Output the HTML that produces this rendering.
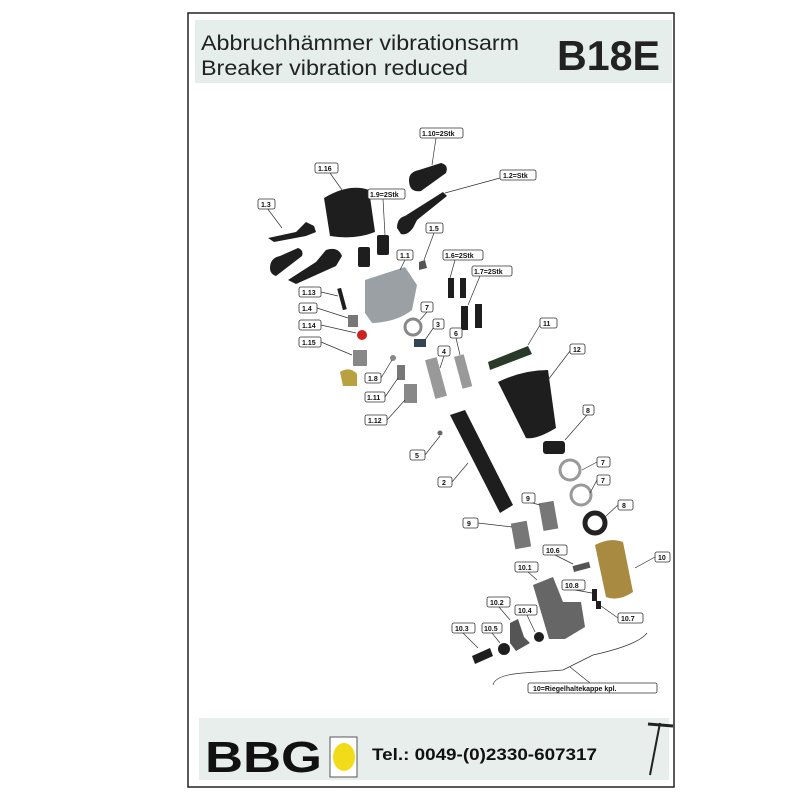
<!DOCTYPE html>
<html><head><style>
body{margin:0;background:#fff;width:800px;height:800px;overflow:hidden;font-family:"Liberation Sans",sans-serif}
</style></head><body>
<svg width="800" height="800" viewBox="0 0 800 800" xmlns="http://www.w3.org/2000/svg" font-family="Liberation Sans, sans-serif">
<rect x="0" y="0" width="800" height="800" fill="#fff"/>
<rect x="188" y="13" width="486" height="774" fill="#fff" stroke="#222" stroke-width="1.5"/>
<rect x="195" y="20" width="477" height="63" fill="#e5eeea"/>
<text x="201" y="50" font-size="21" fill="#222" textLength="318" lengthAdjust="spacingAndGlyphs">Abbruchhämmer vibrationsarm</text>
<text x="201" y="75" font-size="21" fill="#222" textLength="267" lengthAdjust="spacingAndGlyphs">Breaker vibration reduced</text>
<text x="557" y="70" font-size="42" font-weight="bold" fill="#222" textLength="103" lengthAdjust="spacingAndGlyphs">B18E</text>
<rect x="199" y="718" width="470" height="62" fill="#e8eeeb"/>
<text x="205" y="772" font-size="44" font-weight="bold" fill="#111" textLength="117" lengthAdjust="spacingAndGlyphs">BBG</text>
<rect x="330" y="737" width="27" height="40" fill="#fff" stroke="#555"/>
<ellipse cx="344" cy="757" rx="11" ry="14" fill="#f2dc1a"/>
<text x="372" y="760" font-size="17" font-weight="bold" fill="#111" textLength="225" lengthAdjust="spacingAndGlyphs">Tel.: 0049-(0)2330-607317</text>
<line x1="660" y1="723" x2="650" y2="775" stroke="#222" stroke-width="2"/>
<line x1="648" y1="724" x2="673" y2="726" stroke="#222" stroke-width="3"/>
<g fill="#1e1e1e">
<path d="M409 180 q0 -8 10 -10 l22 -7 q8 2 5 10 l-25 18 q-12 2 -12 -11 z"/>
<path d="M397 228 q0 -10 8 -12 l38 -24 l4 4 l-30 24 l-4 8 q-6 8 -12 6 z"/>
<path d="M324 198 q25 -15 45 -8 l6 42 q-20 8 -45 4 z"/>
<path d="M268 238 l28 -6 l6 -6 l4 -4 l8 4 l2 6 l-10 4 l-32 6 z"/>
<path d="M270 268 q0 -10 10 -12 l18 -8 q6 2 4 8 l-26 20 q-6 -2 -6 -8 z"/>
<path d="M288 280 l28 -18 l10 -12 q12 -4 16 6 l-6 10 l-40 18 z"/>
<rect x="358" y="247" width="12" height="20" rx="2"/>
<rect x="377" y="235" width="12" height="20" rx="2"/>
<path d="M419 262 l6 -2 l2 8 l-8 2 z" fill="#555"/>
<path d="M365 280 l40 -13 l12 18 l-5 25 q-15 12 -40 13 l-7 -10 z" fill="#9aa0a4"/>
<rect x="448" y="278" width="6" height="20"/>
<rect x="460" y="278" width="6" height="20"/>
<rect x="461" y="306" width="7" height="24"/>
<rect x="475" y="304" width="7" height="24"/>
<circle cx="413" cy="327" r="8" fill="none" stroke="#888" stroke-width="3"/>
<rect x="414" y="339" width="12" height="8" fill="#345"/>
<rect x="340" y="288" width="4" height="22" transform="rotate(-15 342 299)"/>
<rect x="348" y="315" width="10" height="12" fill="#777"/>
<circle cx="362" cy="335" r="5" fill="#c22"/>
<rect x="353" y="350" width="14" height="16" fill="#888"/>
<path d="M340 372 q10 -6 17 2 l0 12 l-14 0 z" fill="#b9a040"/>
<circle cx="393" cy="358" r="3" fill="#888"/>
<rect x="397" y="365" width="8" height="15" fill="#777"/>
<rect x="404" y="384" width="13" height="19" fill="#888"/>
<rect x="430" y="358" width="12" height="40" fill="#999" transform="rotate(-15 436 378)"/>
<rect x="458" y="355" width="10" height="33" fill="#999" transform="rotate(-15 463 371)"/>
<path d="M488 362 l40 -16 l4 8 l-42 16 z" fill="#2a3a2a"/>
<path d="M498 382 q25 -12 50 -12 l8 58 q-20 12 -30 10 z"/>
<rect x="543" y="441" width="22" height="13" rx="3"/>
<circle cx="570" cy="470" r="10" fill="none" stroke="#999" stroke-width="3"/>
<circle cx="581" cy="495" r="10" fill="none" stroke="#999" stroke-width="3"/>
<circle cx="595" cy="523" r="10" fill="none" stroke="#222" stroke-width="5"/>
<path d="M450 415 l15 -5 l48 95 l-13 8 z"/>
<circle cx="440" cy="433" r="2.5" fill="#666"/>
<rect x="541" y="502" width="15" height="28" fill="#777" transform="rotate(-10 548 516)"/>
<rect x="513" y="522" width="16" height="26" fill="#777" transform="rotate(-10 521 535)"/>
<path d="M595 545 q15 -8 28 -3 l10 50 q-15 10 -27 5 z" fill="#a88a40"/>
<rect x="573" y="564" width="17" height="6" fill="#555" transform="rotate(-15 581 567)"/>
<path d="M533 585 l20 -8 l10 25 l18 0 l4 25 l-20 12 l-16 0 z" fill="#666"/>
<rect x="592" y="589" width="5" height="12"/>
<rect x="596" y="601" width="5" height="8"/>
<path d="M510 623 l8 -4 l6 18 l6 6 l-14 8 l-6 -8 z" fill="#555"/>
<circle cx="539" cy="637" r="5"/>
<circle cx="504" cy="649" r="6"/>
<path d="M472 656 l18 -8 l3 8 l-18 8 z"/>
</g>
<g stroke="#333" stroke-width="0.7" fill="none">
<line x1="436" y1="138" x2="432" y2="165"/><line x1="330" y1="173" x2="342" y2="190"/>
<line x1="383" y1="199" x2="385" y2="235"/><line x1="500" y1="178" x2="445" y2="193"/>
<line x1="267" y1="208" x2="282" y2="228"/><line x1="434" y1="233" x2="424" y2="260"/>
<line x1="405" y1="260" x2="400" y2="270"/><line x1="455" y1="260" x2="450" y2="278"/>
<line x1="480" y1="276" x2="468" y2="305"/><line x1="321" y1="292" x2="338" y2="296"/>
<line x1="317" y1="308" x2="348" y2="318"/><line x1="321" y1="325" x2="356" y2="333"/>
<line x1="321" y1="342" x2="352" y2="355"/><line x1="427" y1="312" x2="420" y2="320"/>
<line x1="434" y1="327" x2="425" y2="340"/><line x1="456" y1="338" x2="460" y2="355"/>
<line x1="444" y1="356" x2="440" y2="368"/><line x1="540" y1="325" x2="528" y2="345"/>
<line x1="570" y1="351" x2="548" y2="380"/><line x1="381" y1="378" x2="392" y2="360"/>
<line x1="385" y1="397" x2="398" y2="378"/><line x1="387" y1="420" x2="405" y2="400"/>
<line x1="587" y1="415" x2="565" y2="440"/><line x1="425" y1="455" x2="440" y2="436"/>
<line x1="452" y1="482" x2="468" y2="463"/><line x1="597" y1="462" x2="582" y2="470"/>
<line x1="597" y1="480" x2="590" y2="493"/><line x1="618" y1="505" x2="605" y2="517"/>
<line x1="529" y1="502" x2="540" y2="505"/><line x1="478" y1="523" x2="512" y2="527"/>
<line x1="555" y1="555" x2="573" y2="564"/><line x1="655" y1="557" x2="635" y2="568"/>
<line x1="528" y1="572" x2="537" y2="580"/><line x1="575" y1="590" x2="592" y2="593"/>
<line x1="618" y1="618" x2="601" y2="606"/><line x1="499" y1="607" x2="510" y2="620"/>
<line x1="527" y1="615" x2="535" y2="632"/><line x1="463" y1="633" x2="478" y2="648"/>
<line x1="492" y1="633" x2="500" y2="643"/>
<path d="M493 685 q2 -10 30 -12 l40 -3 l10 -5 l20 -10 q45 -10 54 -22"/>
<line x1="570" y1="667" x2="590" y2="683"/>
</g>
<g font-size="7" fill="#111" font-weight="bold">
<g fill="#fff" stroke="#333" stroke-width="0.8">
<rect x="420" y="128" width="43" height="10" rx="2"/><rect x="315" y="163" width="23" height="10" rx="2"/>
<rect x="368" y="189" width="37" height="10" rx="2"/><rect x="500" y="170" width="36" height="10" rx="2"/>
<rect x="258" y="199" width="17" height="10" rx="2"/><rect x="426" y="223" width="17" height="10" rx="2"/>
<rect x="397" y="250" width="16" height="10" rx="2"/><rect x="443" y="250" width="40" height="10" rx="2"/>
<rect x="472" y="266" width="40" height="10" rx="2"/><rect x="299" y="287" width="22" height="10" rx="2"/>
<rect x="299" y="303" width="18" height="10" rx="2"/><rect x="299" y="320" width="22" height="10" rx="2"/>
<rect x="299" y="337" width="22" height="10" rx="2"/><rect x="421" y="302" width="12" height="10" rx="2"/>
<rect x="433" y="319" width="11" height="10" rx="2"/><rect x="450" y="328" width="12" height="10" rx="2"/>
<rect x="540" y="318" width="17" height="10" rx="2"/><rect x="570" y="344" width="15" height="10" rx="2"/>
<rect x="438" y="346" width="12" height="10" rx="2"/><rect x="365" y="373" width="16" height="10" rx="2"/>
<rect x="365" y="392" width="20" height="10" rx="2"/><rect x="365" y="415" width="22" height="10" rx="2"/>
<rect x="583" y="405" width="11" height="10" rx="2"/><rect x="410" y="450" width="15" height="10" rx="2"/>
<rect x="438" y="477" width="14" height="10" rx="2"/><rect x="597" y="457" width="13" height="10" rx="2"/>
<rect x="597" y="475" width="13" height="10" rx="2"/><rect x="522" y="493" width="13" height="10" rx="2"/>
<rect x="618" y="500" width="15" height="10" rx="2"/><rect x="463" y="518" width="15" height="10" rx="2"/>
<rect x="543" y="545" width="24" height="10" rx="2"/><rect x="655" y="552" width="15" height="10" rx="2"/>
<rect x="515" y="562" width="23" height="10" rx="2"/><rect x="562" y="580" width="23" height="10" rx="2"/>
<rect x="487" y="597" width="23" height="10" rx="2"/><rect x="618" y="613" width="25" height="10" rx="2"/>
<rect x="515" y="605" width="22" height="10" rx="2"/><rect x="452" y="623" width="23" height="10" rx="2"/>
<rect x="482" y="623" width="20" height="10" rx="2"/>
<rect x="528" y="683" width="129" height="10" rx="2"/>
</g>
<text x="422" y="136">1.10=2Stk</text><text x="318" y="171">1.16</text>
<text x="370" y="197">1.9=2Stk</text><text x="503" y="178">1.2=Stk</text>
<text x="261" y="207">1.3</text><text x="429" y="231">1.5</text>
<text x="400" y="258">1.1</text><text x="445" y="258">1.6=2Stk</text>
<text x="474" y="274">1.7=2Stk</text><text x="302" y="295">1.13</text>
<text x="302" y="311">1.4</text><text x="302" y="328">1.14</text>
<text x="302" y="345">1.15</text><text x="425" y="310">7</text>
<text x="436" y="327">3</text><text x="454" y="336">6</text>
<text x="543" y="326">11</text><text x="573" y="352">12</text>
<text x="442" y="354">4</text><text x="368" y="381">1.8</text>
<text x="367" y="400">1.11</text><text x="368" y="423">1.12</text>
<text x="586" y="413">8</text><text x="415" y="458">5</text>
<text x="442" y="485">2</text><text x="601" y="465">7</text>
<text x="601" y="483">7</text><text x="526" y="501">9</text>
<text x="622" y="508">8</text><text x="467" y="526">9</text>
<text x="546" y="553">10.6</text><text x="658" y="560">10</text>
<text x="518" y="570">10.1</text><text x="565" y="588">10.8</text>
<text x="490" y="605">10.2</text><text x="621" y="621">10.7</text>
<text x="518" y="613">10.4</text><text x="455" y="631">10.3</text>
<text x="484" y="631">10.5</text>
<text x="533" y="691">10=Riegelhaltekappe kpl.</text>
</g>
</svg>
</body></html>
